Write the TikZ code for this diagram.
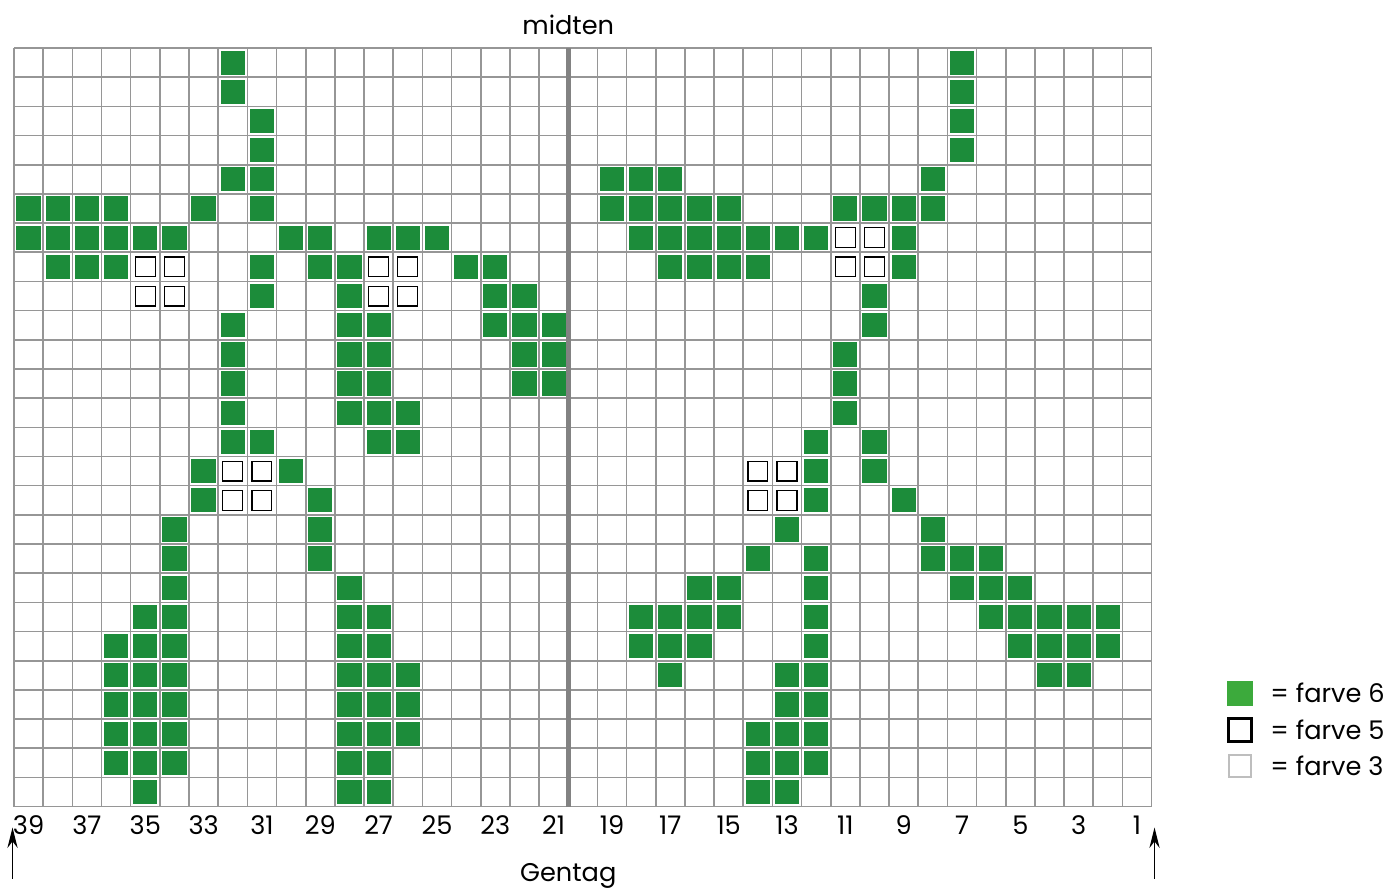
\documentclass[tikz,border=0pt]{standalone}
\usepackage{fontspec}
\setmainfont{Poppins}
\usetikzlibrary{arrows.meta}

\definecolor{gitter}{RGB}{150,150,150}
\definecolor{midtlinje}{RGB}{130,130,130}
\definecolor{farveseks}{RGB}{28,140,58}
\definecolor{legendgroen}{RGB}{60,170,60}
\definecolor{farvetre}{RGB}{190,190,190}

\begin{document}
\begin{tikzpicture}[x=0.5cm,y=0.5cm,
    gitterlinje/.style={gitter, line width=0.8pt},
    groenrude/.style={fill=farveseks},
    aabenrude/.style={draw=black, line width=0.6pt, fill=white},
    tekst/.style={font=\fontsize{12.5}{14}\selectfont, inner sep=0pt}]

    \useasboundingbox (-0.48,-2.88) rectangle (47.07,27.65);

    % Gitter og midterlinje
    \draw[gitterlinje, step=0.5cm] (0,0) grid (39,26);
    \draw[midtlinje, line width=2.6pt] (19,0) -- (19,26);

    % Grønne masker (række fra toppen / kolonner fra venstre)
    \foreach \r/\kol in {0/{7,32}, 1/{7,32}, 2/{8,32}, 3/{8,32},
        4/{7,8,20,21,22,31},
        5/{0,1,2,3,6,8,20,21,22,23,24,28,29,30,31},
        6/{0,1,2,3,4,5,9,10,12,13,14,21,22,23,24,25,26,27,30},
        7/{1,2,3,8,10,11,15,16,22,23,24,25,30},
        8/{8,11,16,17,29}, 9/{7,11,12,16,17,18,29},
        10/{7,11,12,17,18,28}, 11/{7,11,12,17,18,28},
        12/{7,11,12,13,28}, 13/{7,8,12,13,27,29},
        14/{6,9,27,29}, 15/{6,10,27,30}, 16/{5,10,26,31},
        17/{5,10,25,27,31,32,33}, 18/{5,11,23,24,27,32,33,34},
        19/{4,5,11,12,21,22,23,24,27,33,34,35,36,37},
        20/{3,4,5,11,12,21,22,23,27,34,35,36,37},
        21/{3,4,5,11,12,13,22,26,27,35,36},
        22/{3,4,5,11,12,13,26,27}, 23/{3,4,5,11,12,13,25,26,27},
        24/{3,4,5,11,12,25,26,27}, 25/{4,11,12,25,26}}
        \foreach \c in \kol
            \fill[groenrude] (\c+0.085,25-\r+0.085) rectangle (\c+0.915,26-\r-0.085);

    % Farve 5 (åbne firkanter)
    \foreach \c/\r in {4/7,5/7,4/8,5/8, 12/7,13/7,12/8,13/8, 28/6,29/6,28/7,29/7,
        7/14,8/14,7/15,8/15, 25/14,26/14,25/15,26/15}
        \draw[aabenrude] (\c+0.16,25-\r+0.16) rectangle (\c+0.84,26-\r-0.16);

    % Masketal
    \foreach \n in {1,3,...,39}
        \node[tekst] (m\n) at ({39-\n+0.5},-0.65) {\n};

    \node[tekst] (midten) at (19,26.8) {midten};
    \node[tekst] (gentag) at (19,-2.37) {Gentag};

    % Pile
    \coordinate (vstart) at (-0.05,-2.47);
    \coordinate (vspids) at (-0.05,-0.72);
    \coordinate (hstart) at (39.1,-2.47);
    \coordinate (hspids) at (39.1,-0.72);
    \draw[-{Stealth[length=10pt,width=5pt]}, line width=0.6pt] (vstart) -- (vspids);
    \draw[-{Stealth[length=10pt,width=5pt]}, line width=0.6pt] (hstart) -- (hspids);

    % Forklaring
    \fill[legendgroen] (41.6,3.46) rectangle (42.46,4.32);
    \draw[black, line width=1.4pt] (41.65,2.23) rectangle (42.41,3.01);
    \draw[farvetre, line width=1pt] (41.65,1.0) rectangle (42.41,1.78);
    \node[tekst, anchor=west] (f6) at (43.06,3.89) {= farve 6};
    \node[tekst, anchor=west] (f5) at (43.06,2.62) {= farve 5};
    \node[tekst, anchor=west] (f3) at (43.06,1.39) {= farve 3};
\end{tikzpicture}
\end{document}
